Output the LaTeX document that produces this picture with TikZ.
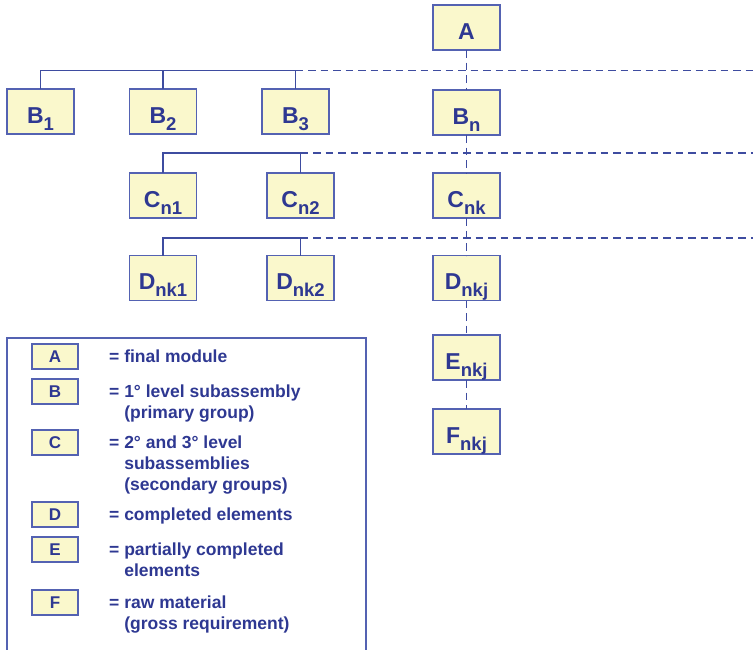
\documentclass[tikz,border=0pt]{standalone}
\usepackage{fontspec}
\setmainfont{Liberation Sans}
\definecolor{ink}{RGB}{46,56,146}
\definecolor{edge}{RGB}{84,98,178}
\definecolor{wire}{RGB}{62,76,160}
\definecolor{paper}{RGB}{250,248,204}
\newcommand\sbs[1]{\raisebox{-7pt}{\fontsize{18.5}{20}\selectfont #1}}
\begin{document}
\begin{tikzpicture}[x=1pt,y=-1pt,
  part/.style={draw=edge,line width=1.6pt,fill=paper,minimum width=67pt,minimum height=45pt,
    inner sep=0pt,outer sep=0pt,text=ink,font=\fontsize{23}{26}\selectfont\bfseries,
    text height=23pt,text depth=0pt},
  key/.style={draw=edge,line width=1.6pt,fill=paper,minimum width=46pt,minimum height=25pt,
    inner sep=0pt,outer sep=0pt,text=ink,font=\fontsize{17}{20}\selectfont\bfseries,
    text height=12pt,text depth=0pt},
  keytext/.style={anchor=base west,inner sep=0pt,text=ink,font=\fontsize{17.5}{21}\selectfont\bfseries},
  bus/.style={draw=wire,line width=1.2pt},
  link/.style={draw=wire,line width=1.2pt,dash pattern=on 7.5pt off 5pt}]
\useasboundingbox (0,0) rectangle (753,649);

% tree of parts
\node[part] (A)    at (466.5,27.5) {A};
\node[part] (B1)   at (40.5,111.5) {B\sbs{1}};
\node[part] (B2)   at (163,111.5)  {B\sbs{2}};
\node[part] (B3)   at (295.5,111.5){B\sbs{3}};
\node[part] (Bn)   at (466.5,112.5){B\sbs{n}};
\node[part] (Cn1)  at (163,195.5)  {C\sbs{n1}};
\node[part] (Cn2)  at (300.5,195.5){C\sbs{n2}};
\node[part] (Cnk)  at (466.5,195.5){C\sbs{nk}};
\node[part] (Dnk1) at (163,278)    {D\sbs{nk1}};
\node[part] (Dnk2) at (300.5,278)  {D\sbs{nk2}};
\node[part] (Dnkj) at (466.5,278)  {D\sbs{nkj}};
\node[part] (Enkj) at (466.5,357.5){E\sbs{nkj}};
\node[part] (Fnkj) at (466.5,431.5){F\sbs{nkj}};

% bus junctions and their dashed continuations
\coordinate (busB) at (295.5,70.5);
\coordinate (endB) at (753,70.5);
\coordinate (busC) at (300.5,153);
\coordinate (endC) at (753,153);
\coordinate (busD) at (300.5,238);
\coordinate (endD) at (753,238);

\draw[bus] (B1.north) |- (busB) -- (B3.north);
\draw[bus] (B2.north) -- (B2.north |- busB);
\draw[link] (busB) -- (endB);

\draw[bus] (Cn1.north) |- (busC) -- (Cn2.north);
\draw[link] (busC) -- (endC);

\draw[bus] (Dnk1.north) |- (busD) -- (Dnk2.north);
\draw[link] (busD) -- (endD);

% main chain
\draw[link] (A.south) -- (Bn.north);
\draw[link] (Bn.south) -- (Cnk.north);
\draw[link] (Cnk.south) -- (Dnkj.north);
\draw[link] (Dnkj.south) -- (Enkj.north);
\draw[link] (Enkj.south) -- (Fnkj.north);

% legend frame, open at the bottom
\draw[draw=edge,line width=1.5pt] (7,660) -- (7,338) -- (366,338) -- (366,660);

\node[key] (kA) at (55,356.5) {A};
\node[key] (kB) at (55,391.5) {B};
\node[key] (kC) at (55,442.5) {C};
\node[key] (kD) at (55,514.5) {D};
\node[key] (kE) at (55,549.5) {E};
\node[key] (kF) at (55,602.5) {F};

\node[keytext] (tA) at (109,362.5) {\begin{tabular}[t]{@{}l@{ }l@{}}=&final module\end{tabular}};
\node[keytext] (tB) at (109,397.5) {\begin{tabular}[t]{@{}l@{ }l@{}}=&1° level subassembly\\&(primary group)\end{tabular}};
\node[keytext] (tC) at (109,448.5) {\begin{tabular}[t]{@{}l@{ }l@{}}=&2° and 3° level\\&subassemblies\\&(secondary groups)\end{tabular}};
\node[keytext] (tD) at (109,520.5) {\begin{tabular}[t]{@{}l@{ }l@{}}=&completed elements\end{tabular}};
\node[keytext] (tE) at (109,555.5) {\begin{tabular}[t]{@{}l@{ }l@{}}=&partially completed\\&elements\end{tabular}};
\node[keytext] (tF) at (109,608.5) {\begin{tabular}[t]{@{}l@{ }l@{}}=&raw material\\&(gross requirement)\end{tabular}};
\end{tikzpicture}
\end{document}
